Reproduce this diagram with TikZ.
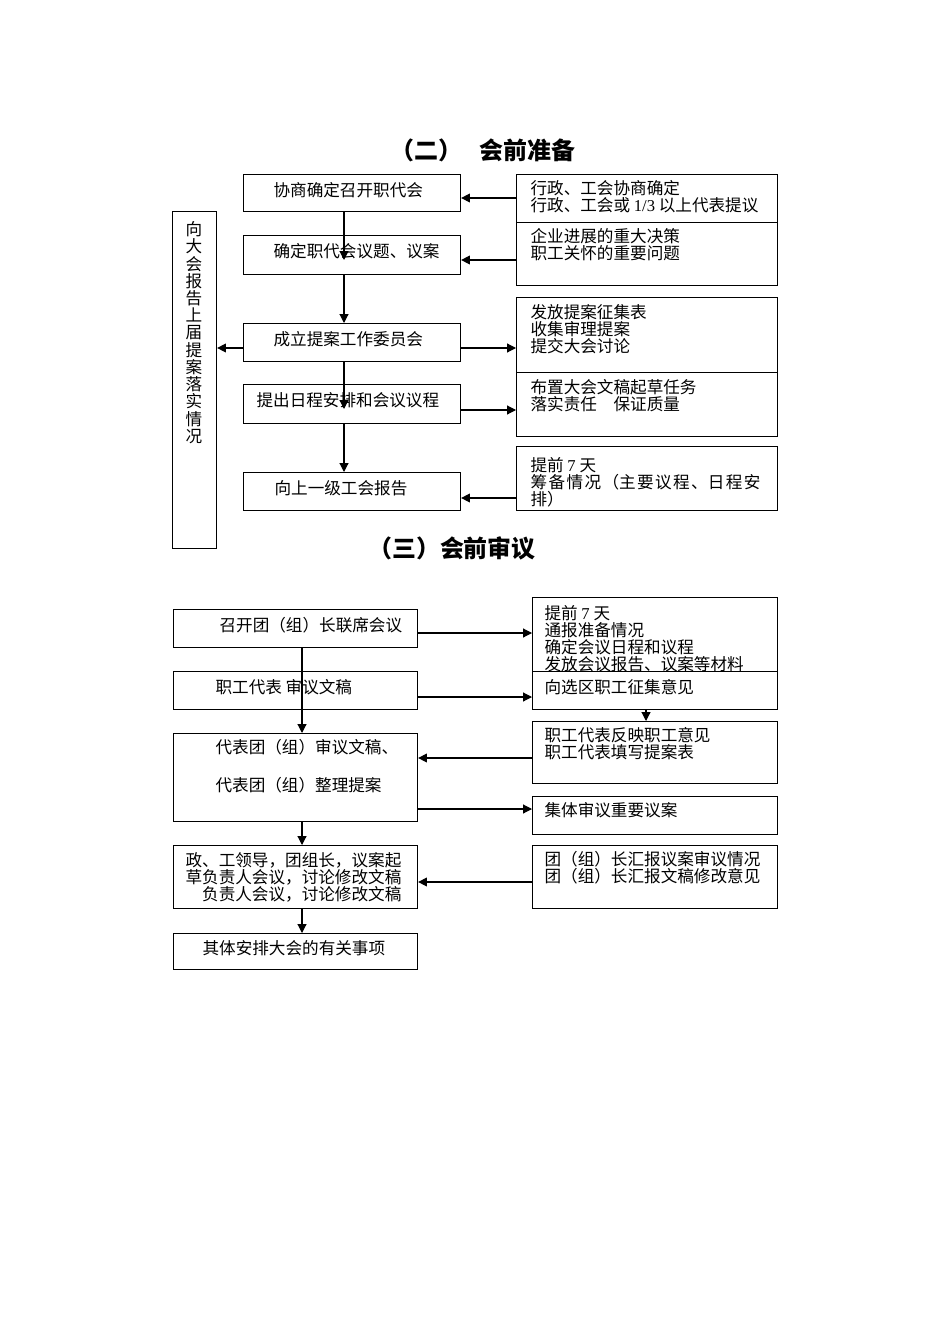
\documentclass[tikz,border=0pt]{standalone}
\usepackage{fontspec}
\setmainfont{Liberation Serif}
\newfontfamily\cjk{Noto Sans CJK SC}
\newfontfamily\lat{Liberation Serif}
\usetikzlibrary{arrows.meta}

\begin{document}
\begin{tikzpicture}[x=0.6265pt, y=-0.6265pt, line width=0.7pt,
    every node/.style={font=\cjk\fontsize{10.4}{10.65}\selectfont},
    box/.style={draw, rectangle, anchor=north west, inner sep=0pt, fill=white},
    wh/.style 2 args={minimum width=#1*0.6265pt, minimum height=#2*0.6265pt},
    txt/.style={anchor=west, inner sep=0pt, align=left},
    title/.style={font=\cjk\bfseries\fontsize{15}{15}\selectfont},
    arr/.style={-{Triangle[length=5.5pt,width=5.5pt]}}]
\useasboundingbox (0,0) rectangle (950,1344);

%% (er) hui qian zhun bei
\node[title] (t2) at (483,150) {（二）\hspace{0.7em}会前准备};

\node[box, wh={217}{37}] (A) at (243,174) {};
\node[box, wh={217}{39}] (B) at (243,235) {};
\node[box, wh={217}{38}] (C) at (243,323) {};
\node[box, wh={217}{39}] (D) at (243,384) {};
\node[box, wh={217}{38}] (E) at (243,472) {};
\node[box, wh={44}{337}] (side) at (172,211) {};
\node[txt] (At) at (273,190) {协商确定召开职代会};
\node[txt] (Bt) at (273,251) {确定职代会议题、议案};
\node[txt] (Ct) at (273,339) {成立提案工作委员会};
\node[txt] (Dt) at (256,400) {提出日程安排和会议议程};
\node[txt] (Et) at (274,488) {向上一级工会报告};
\node[anchor=north, align=center, inner sep=0pt,
      font=\cjk\fontsize{10.4}{10.8}\selectfont] (sidet) at (194,221)
  {向\\大\\会\\报\\告\\上\\届\\提\\案\\落\\实\\情\\况};

\node[box, wh={261}{48}] (R1) at (516,174) {};
\node[box, wh={261}{63}] (R2) at (516,222) {};
\node[box, wh={261}{75}] (R3) at (516,297) {};
\node[box, wh={261}{64}] (R4) at (516,372) {};
\node[box, wh={261}{64}] (R5) at (516,446) {};
\node[txt] (R1t) at (530,197) {行政、工会协商确定\\行政、工会或 {\lat 1/3} 以上代表提议};
\node[txt] (R2t) at (530,245) {企业进展的重大决策\\职工关怀的重要问题};
\node[txt] (R3t) at (530,329) {发放提案征集表\\收集审理提案\\提交大会讨论};
\node[txt] (R4t) at (530,396) {布置大会文稿起草任务\\落实责任\hspace{1em}保证质量};
\node[txt] (R5t) at (530,482) {提前 {\lat 7} 天\\\makebox[144pt][s]{筹\hfil 备\hfil 情\hfil 况\hfil （主\hfil 要\hfil 议\hfil 程\hfil 、日\hfil 程\hfil 安}\\排）};

% arrow rows
\coordinate (ra) at (0,198);
\coordinate (rb) at (0,260);
\coordinate (rc) at (0,348);
\coordinate (rd) at (0,410);
\coordinate (re) at (0,498);
\coordinate (spine) at (344,0);
\coordinate (tipB) at (344,260);
\coordinate (tipD) at (344,409);

\draw[arr] (R1.west |- ra) -- (A.east |- ra);
\draw[arr] (R2.west |- rb) -- (B.east |- rb);
\draw[arr] (C.west |- rc) -- (side.east |- rc);
\draw[arr] (C.east |- rc) -- (R3.west |- rc);
\draw[arr] (D.east |- rd) -- (R4.west |- rd);
\draw[arr] (R5.west |- re) -- (E.east |- re);
\draw[arr] (A.south -| spine) -- (tipB);
\draw[arr] (B.south -| spine) -- (C.north -| spine);
\draw[arr] (C.south -| spine) -- (tipD);
\draw[arr] (D.south -| spine) -- (E.north -| spine);

%% (san) hui qian shen yi
\node[title] (t3) at (452,548) {（三）会前审议};

\node[box, wh={244}{38}] (L1) at (173,609) {};
\node[box, wh={244}{38}] (L2) at (173,671) {};
\node[box, wh={244}{88}] (L3) at (173,733) {};
\node[box, wh={244}{63}] (L4) at (173,845) {};
\node[box, wh={244}{36}] (L5) at (173,933) {};
\node[txt] (L1t) at (219,625) {召开团（组）长联席会议};
\node[txt] (L2t) at (215,687) {职工代表 审议文稿};
\node[txt] (L3a) at (215,747) {代表团（组）审议文稿、};
\node[txt] (L3b) at (215,785) {代表团（组）整理提案};
\node[txt] (L4t) at (185,877) {政、工领导，团组长，议案起\\草负责人会议，讨论修改文稿\\\hspace{1em}负责人会议，讨论修改文稿};
\node[txt] (L5t) at (202,948) {其体安排大会的有关事项};

\node[box, wh={245}{74}] (Q1) at (532,597) {};
\node[txt] (Q1t) at (544,639) {提前 {\lat 7} 天\\通报准备情况\\确定会议日程和议程\\发放会议报告、议案等材料};
\node[box, wh={245}{38}] (Q2) at (532,671) {};
\node[box, wh={245}{62}] (Q3) at (532,721) {};
\node[box, wh={245}{38}] (Q4) at (532,796) {};
\node[box, wh={245}{63}] (Q5) at (532,845) {};
\node[txt] (Q2t) at (544,687) {向选区职工征集意见};
\node[txt] (Q3t) at (544,744) {职工代表反映职工意见\\职工代表填写提案表};
\node[txt] (Q4t) at (544,810) {集体审议重要议案};
\node[txt] (Q5t) at (544,868) {团（组）长汇报议案审议情况\\团（组）长汇报文稿修改意见};

\coordinate (sa) at (0,633);
\coordinate (sb) at (0,697);
\coordinate (sc) at (0,758);
\coordinate (sd) at (0,809);
\coordinate (se) at (0,882);
\coordinate (spine2) at (302,0);
\coordinate (drop) at (646,0);

\draw[arr] (L1.east |- sa) -- (Q1.west |- sa);
\draw[arr] (L2.east |- sb) -- (Q2.west |- sb);
\draw[arr] (Q2.south -| drop) -- (Q3.north -| drop);
\draw[arr] (Q3.west |- sc) -- (L3.east |- sc);
\draw[arr] (L3.east |- sd) -- (Q4.west |- sd);
\draw[arr] (Q5.west |- se) -- (L4.east |- se);
\draw[arr] (L1.south -| spine2) -- (L3.north -| spine2);
\draw[arr] (L3.south -| spine2) -- (L4.north -| spine2);
\draw[arr] (L4.south -| spine2) -- (L5.north -| spine2);
\end{tikzpicture}
\end{document}
